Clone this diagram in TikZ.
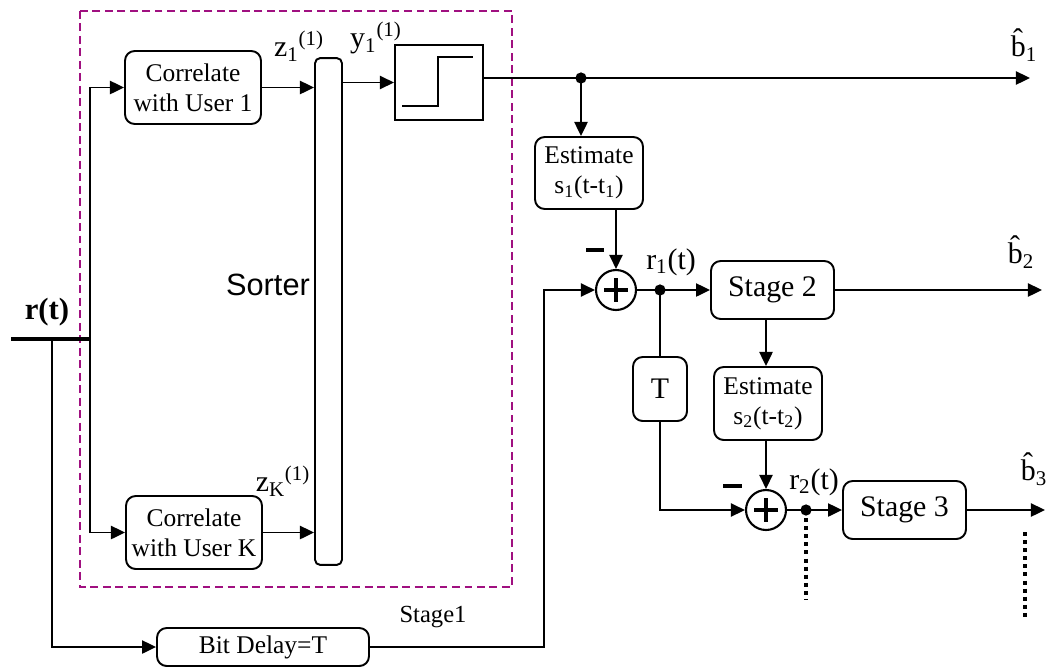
\documentclass[tikz,border=0pt]{standalone}
\usepackage{fontspec}
\setmainfont{Liberation Serif}
\setsansfont{Liberation Sans}
\usetikzlibrary{arrows.meta,calc,positioning}
\definecolor{framecol}{RGB}{160,16,128}

\begin{document}
\begin{tikzpicture}[x=0.02cm,y=-0.02cm,>={Triangle[length=8pt,width=7.5pt]},
  blk/.style={draw,rounded corners=5.5pt,line width=1.1pt,align=center,inner sep=0pt,
    font=\fontsize{14.5}{17}\selectfont},
  stg/.style={blk,font=\fontsize{17}{20}\selectfont},
  sumnode/.style={circle,draw,line width=1.2pt,minimum size=0.8cm,inner sep=0pt},
  lbl/.style={inner sep=0pt,font=\fontsize{17}{20}\selectfont},
  wire/.style={line width=1.05pt},
  dotline/.style={line width=2.3pt,dash pattern=on 2.3pt off 2.3pt}]
\useasboundingbox (0,0) rectangle (1050,667);

% stage 1 frame
\draw[framecol,line width=1.1pt,dash pattern=on 4.5pt off 2.6pt] (80,11) rectangle (512,587);

\node[blk,minimum width=2.72cm,minimum height=1.46cm] (corr1) at (193,87.5) {Correlate\\with User 1};
\node[blk,minimum width=2.72cm,minimum height=1.46cm] (corrK) at (194,532.5) {Correlate\\with User K};
\node[draw,rounded corners=3pt,line width=1.1pt,minimum width=0.54cm,minimum height=10.14cm,inner sep=0pt] (sort) at (328.5,311.5) {};
\node[inner sep=0pt,font=\fontsize{17.5}{20}\sffamily\selectfont] (sortlbl) at (268,285) {Sorter};
\node[draw,line width=1.2pt,minimum width=1.76cm,minimum height=1.5cm,inner sep=0pt] (thr) at (439,82.5) {};
\draw[wire] (402,106) -- (438,106) -- (438,57) -- (473,57);

\node[blk,minimum width=2.16cm,minimum height=1.44cm] (est1) at (589,173) {Estimate\\s\textsubscript{1}(t-t\textsubscript{1})};
\node[sumnode] (sum1) at (616,290) {};
\node[stg,minimum width=2.46cm,minimum height=1.16cm] (st2) at (772.5,290) {Stage 2};
\node[stg,minimum width=1.08cm,minimum height=1.28cm] (tdel) at (660,389) {T};
\node[blk,minimum width=2.16cm,minimum height=1.46cm] (est2) at (768,403.5) {Estimate\\s\textsubscript{2}(t-t\textsubscript{2})};
\node[sumnode] (sum2) at (766,510) {};
\node[stg,minimum width=2.46cm,minimum height=1.16cm] (st3) at (904.5,510) {Stage 3};
\node[blk,minimum width=4.24cm,minimum height=0.76cm] (bd) at (263,647) {Bit Delay=T};

\coordinate (rin) at (11,339);
\coordinate (rend) at (91,339);
\coordinate (split) at (90,339);
\coordinate (j0) at (52,339);
\coordinate (j1) at (581,78);
\coordinate (j2) at (660,290);
\coordinate (j3) at (806,510);
\coordinate (k1) at (544,290);
\coordinate (out1) at (1030,78);
\coordinate (out2) at (1042,290);
\coordinate (out3) at (1045,510);
\coordinate (d1) at (806,600);
\coordinate (d2a) at (1025,532);
\coordinate (d2b) at (1025,620);

\draw[line width=2.3pt] (rin) -- (rend);
\node[font=\bfseries\fontsize{17.5}{20}\selectfont,inner sep=0pt] (rlbl) at (47,312) {r(t)};

\draw[wire,->] (split) |- (corr1.west);
\draw[wire,->] (split) |- (corrK.west);
\draw[wire,->] (j0) |- (bd.west);
\draw[wire,->] (corr1.east) -- (corr1.east -| sort.west);
\draw[wire,->] (corrK.east) -- (corrK.east -| sort.west);
\draw[wire,->] (sort.east |- thr.west) -- (thr.west);
\draw[wire,->] (thr.east |- j1) -- (out1);
\draw[wire,->] (j1) -- (j1 |- est1.north);
\draw[wire,->] (est1.south -| sum1) -- (sum1.north);
\draw[wire,->] (bd.east) -| (k1) -- (sum1.west);
\draw[wire,->] (sum1.east) -- (st2.west);
\draw[wire] (j2) -- (tdel.north);
\draw[wire,->] (tdel.south) |- (sum2.west);
\draw[wire,->] (st2.south -| sum2) -- (est2.north -| sum2);
\draw[wire,->] (est2.south -| sum2) -- (sum2.north);
\draw[wire,->] (sum2.east) -- (st3.west);
\draw[wire,->] (st2.east) -- (out2);
\draw[wire,->] (st3.east) -- (out3);
\draw[dotline] (j3) -- (d1);
\draw[dotline] (d2a) -- (d2b);
\foreach \j in {j1,j2,j3} \fill (\j) circle (3.2pt);

\foreach \s in {sum1,sum2}
  \draw[line width=2.4pt] ($(\s)+(-12,0)$) -- ($(\s)+(12,0)$) ($(\s)+(0,-12)$) -- ($(\s)+(0,12)$);
\draw[line width=2.4pt] (586,250) -- (604,250);
\draw[line width=2.4pt] (723,486) -- (742,486);

\node[lbl] (z1) at (299,46) {z\textsubscript{1}\textsuperscript{(1)}};
\node[lbl] (y1) at (376,38) {y\textsubscript{1}\textsuperscript{(1)}};
\node[lbl] (zK) at (283,481) {z\textsubscript{K}\textsuperscript{(1)}};
\node[lbl] (r1) at (671,262) {r\textsubscript{1}(t)};
\node[lbl] (r2) at (814,482) {r\textsubscript{2}(t)};
\node[lbl] (b1) at (1024,45) {\^{b}\textsubscript{1}};
\node[lbl] (b2) at (1021,252) {\^{b}\textsubscript{2}};
\node[lbl] (b3) at (1034,469) {\^{b}\textsubscript{3}};
\node[inner sep=0pt,font=\fontsize{14}{16}\selectfont] (stg1) at (433,617) {Stage1};
\end{tikzpicture}
\end{document}
